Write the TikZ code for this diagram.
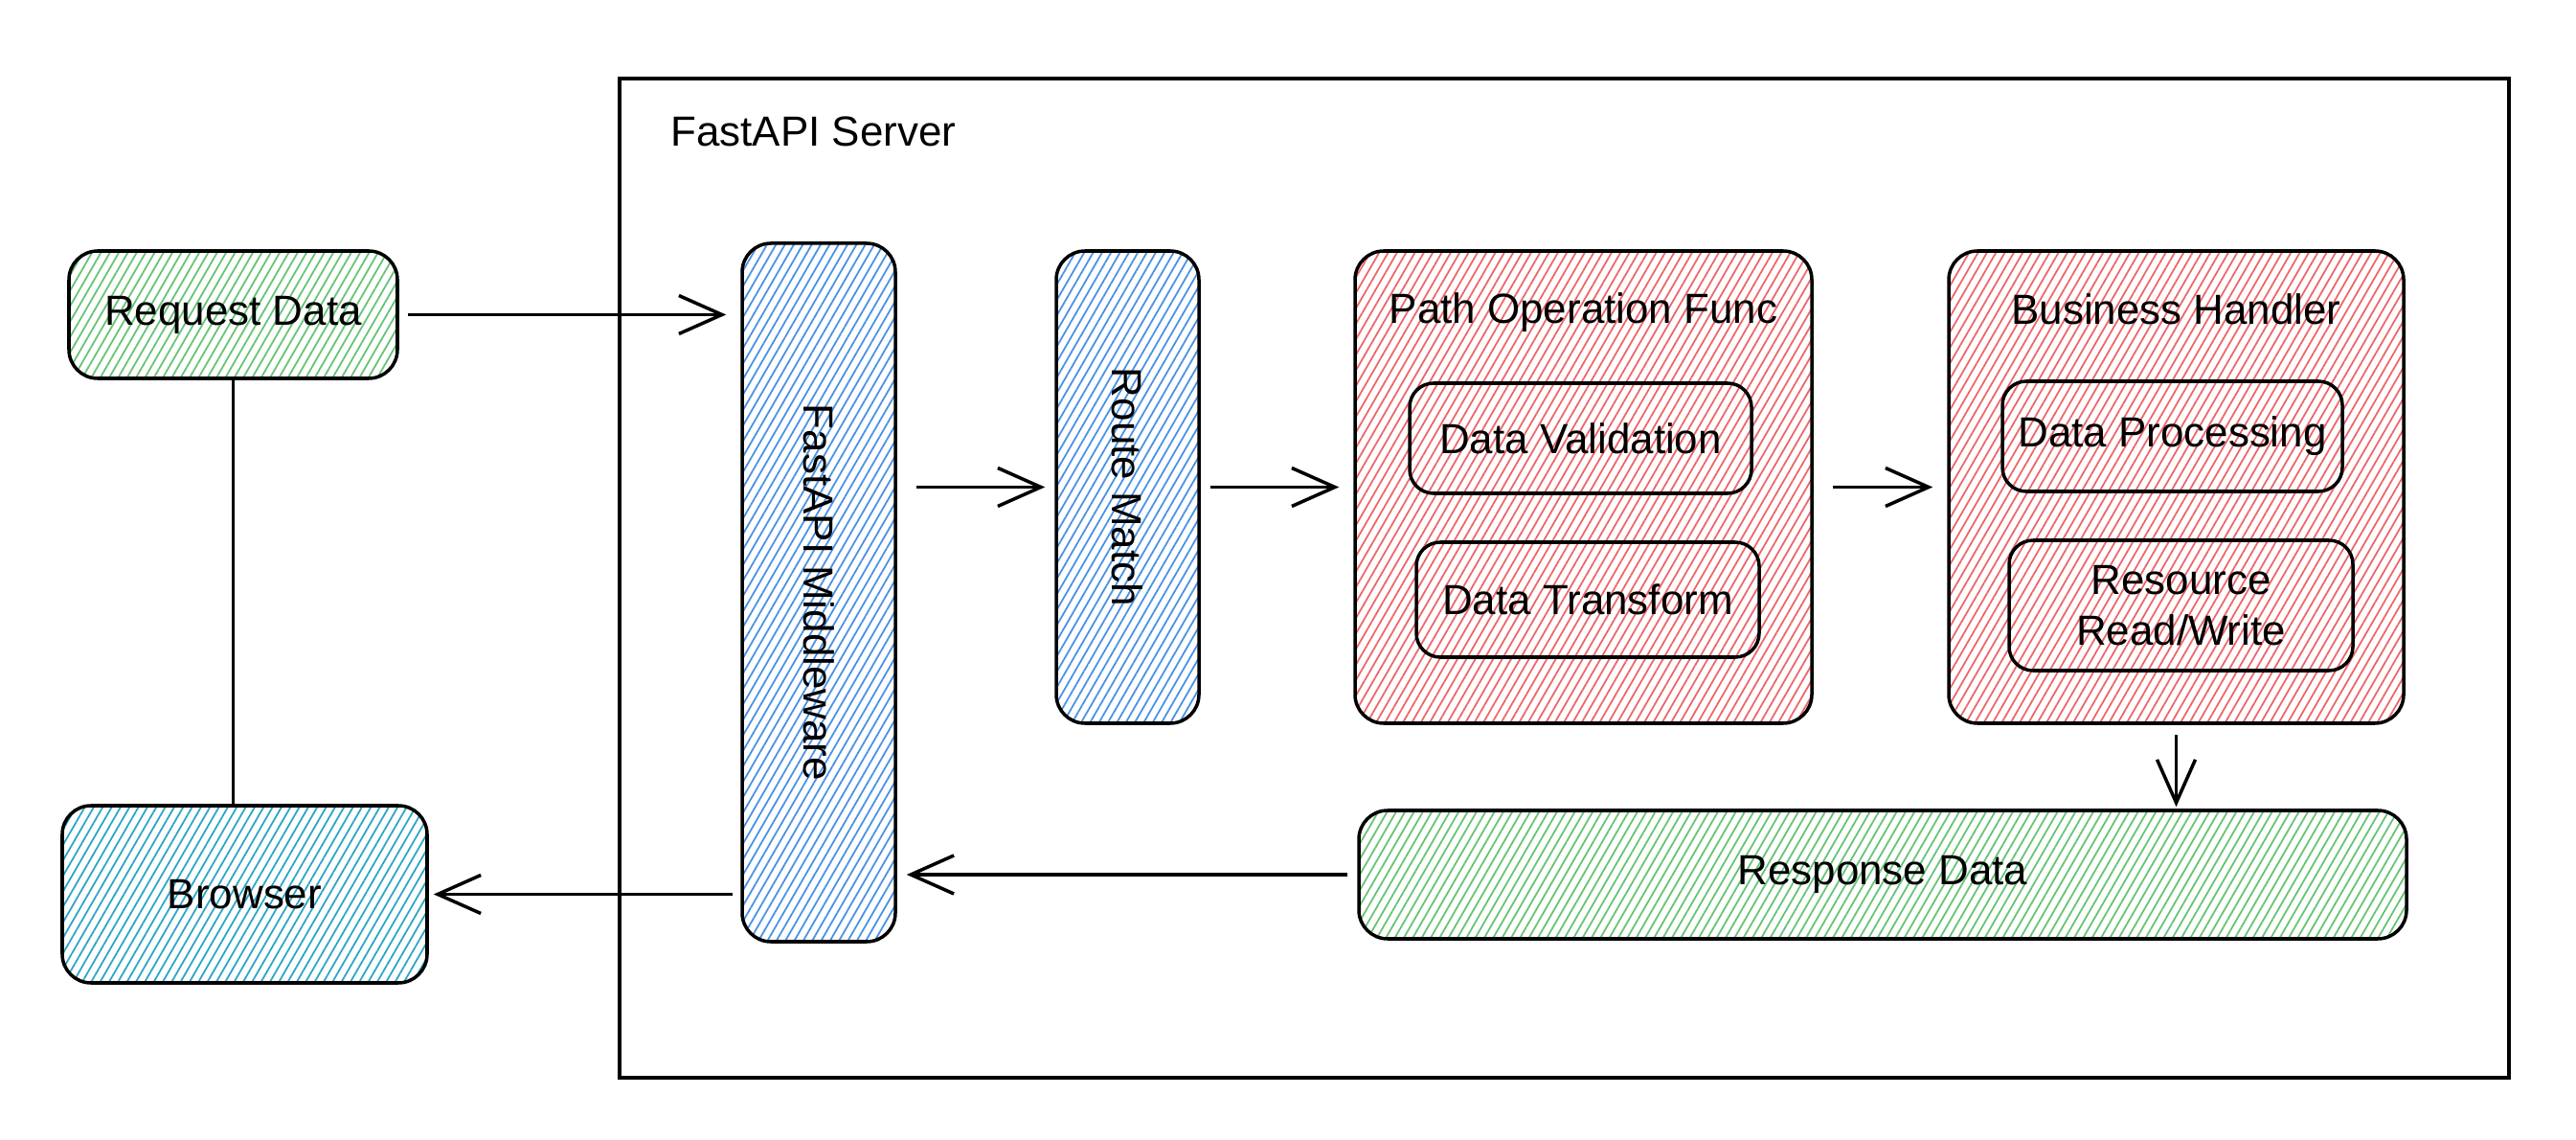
\documentclass[tikz,border=0pt]{standalone}
\usepackage{fontspec}
\setmainfont{Liberation Sans}
\usepackage{xcolor}
\usepackage{tikz}
\usetikzlibrary{positioning}
\usetikzlibrary{arrows.meta,patterns.meta}
\definecolor{hgreen}{RGB}{100,195,115}
\definecolor{hblue}{RGB}{70,145,230}
\definecolor{hteal}{RGB}{40,165,200}
\definecolor{hred}{RGB}{238,100,105}
\tikzset{every node/.style={font=\fontsize{12.5}{15}\selectfont}}

\begin{document}
\begin{tikzpicture}[
  box/.style={
    draw,
    line width=1pt,
    rectangle,
    rounded corners=0.3cm,
    align=center
  },
  hatch/.style={pattern={Lines[angle=60,distance=2.3pt,line width=0.5pt]}, pattern color=#1},
  inner/.style={box, rounded corners=0.25cm},
  arr/.style={-{Straight Barb[length=4.5mm,width=4mm]}, line width=1pt}
]
\useasboundingbox (0,0) rectangle (26.9,-11.9);

\node[draw, line width=0.9pt, minimum width=19.73cm, minimum height=10.43cm] (server) at (16.335,-6.035) {};
\node[anchor=west] (serverT) at (6.88,-1.37) {FastAPI Server};

\node[box, hatch=hgreen, minimum width=3.43cm, minimum height=1.33cm] (req) at (2.435,-3.285) {Request Data};
\node[box, hatch=hteal, minimum width=3.81cm, minimum height=1.85cm] (browser) at (2.555,-9.335) {Browser};

\node[box, hatch=hblue, minimum width=1.6cm, minimum height=7.29cm] (mw) at (8.55,-6.185) {};
\node[rotate=-90] (mwT) at (mw) {FastAPI Middleware};
\node[box, hatch=hblue, minimum width=1.49cm, minimum height=4.93cm] (route) at (11.775,-5.085) {};
\node[rotate=-90] (routeT) at (route) {Route Match};

\node[box, hatch=hred, minimum width=4.77cm, minimum height=4.93cm] (pof) at (16.535,-5.085) {};
\node (pofT) at (16.535,-3.26) {Path Operation Func};
\node[inner, minimum width=3.57cm, minimum height=1.15cm] (valid) at (16.505,-4.575) {Data Validation};
\node[inner, minimum width=3.58cm, minimum height=1.2cm] (trans) at (16.58,-6.26) {Data Transform};

\node[box, hatch=hred, minimum width=4.75cm, minimum height=4.93cm] (biz) at (22.725,-5.085) {};
\node (bizT) at (22.725,-3.23) {Business Handler};
\node[inner, minimum width=3.55cm, minimum height=1.15cm] (proc) at (22.685,-4.555) {Data Processing};
\node[inner, minimum width=3.59cm, minimum height=1.36cm] (rw) at (22.775,-6.32) {Resource\\Read/Write};

\node[box, hatch=hgreen, minimum width=10.94cm, minimum height=1.34cm] (resp) at (19.66,-9.13) {Response Data};

\draw[line width=1pt] (req.south) -- (req.south |- browser.north);
\draw[arr, shorten <=1mm, shorten >=1.5mm] (req) -- (req -| mw.west);
\draw[arr, shorten <=2mm, shorten >=1mm] (route -| mw.east) -- (route);
\draw[arr, shorten <=1mm, shorten >=1.5mm] (route) -- (pof);
\draw[arr, shorten <=2mm, shorten >=1.5mm] (pof) -- (biz);
\draw[arr, shorten <=1mm, shorten >=0.2mm] (biz) -- (biz |- resp.north);
\draw[arr, shorten <=1mm, shorten >=1mm] (resp) -- (resp -| mw.east);
\draw[arr, shorten <=0.8mm, shorten >=0.5mm] (browser -| mw.west) -- (browser);

\end{tikzpicture}
\end{document}
